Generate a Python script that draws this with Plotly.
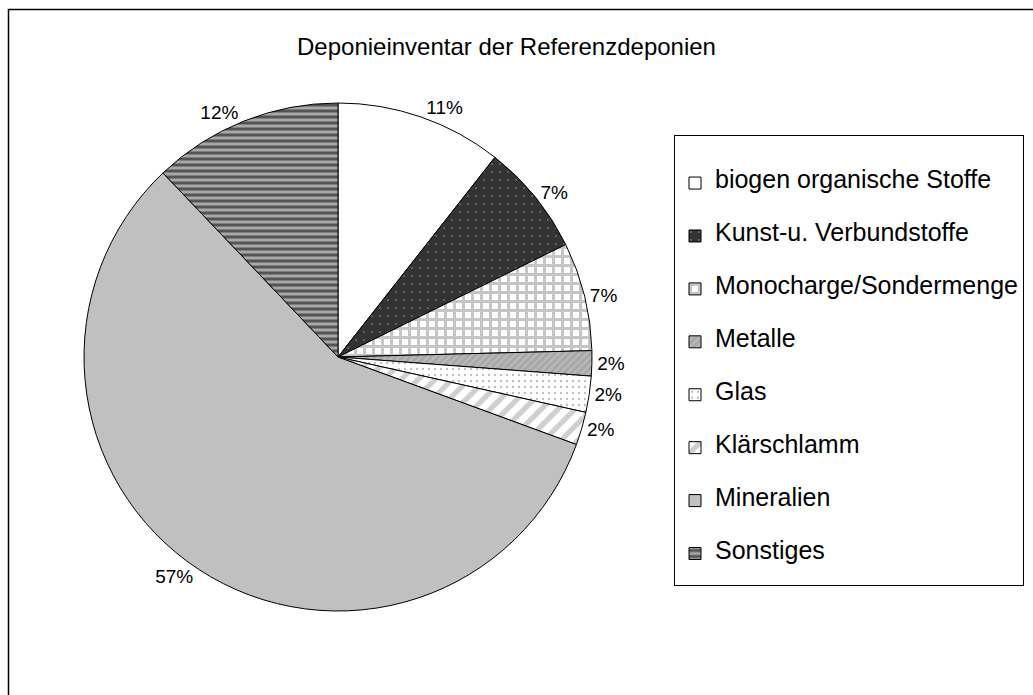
import plotly.graph_objects as go

categories = ["biogen organische Stoffe", "Kunst-u. Verbundstoffe", "Monocharge/Sondermenge",
              "Metalle", "Glas", "Klärschlamm", "Mineralien", "Sonstiges"]
values = [10.6, 7.1, 6.9, 1.6, 2.3, 2.1, 57.3, 12.1]

bg_colors = ["#ffffff", "#333333", "#ffffff", "#a8a8a8", "#ffffff", "#ffffff", "#c0c0c0", "#a8a8a8"]
fg_colors = ["#ffffff", "#a0a0a0", "#8c8c8c", "#d0d0d0", "#808080", "#a0a0a0", "#c0c0c0", "#000000"]
shapes = ["", ".", "+", "/", ".", "/", "", "-"]
sizes = [8, 8, 9, 5, 6, 12, 8, 6]
solid = [0.3, 0.06, 0.55, 0.35, 0.12, 0.45, 0.3, 0.5]

NB = "\u00a0"
legend_labels = [f"{NB}<br><span style='font-size:25px'>{c}</span><br>{NB}" for c in categories]

fig = go.Figure(go.Pie(
    labels=legend_labels,
    values=values,
    sort=False,
    direction="clockwise",
    rotation=0,
    texttemplate="%{percent:.0%}",
    textposition="outside",
    textfont=dict(family="Liberation Sans, Arial", size=19, color="#000000"),
    hoverinfo="none",
    marker=dict(
        colors=bg_colors,
        line=dict(color="#000000", width=1),
        pattern=dict(shape=shapes, fgcolor=fg_colors, bgcolor=bg_colors,
                     size=sizes, solidity=solid, fillmode="overlay"),
    ),
    domain=dict(x=[(338 - 254) / 1033, (338 + 254) / 1033],
                y=[(338 - 254) / 695, (338 + 254) / 695]),
))

fig.update_layout(
    width=1033, height=695,
    margin=dict(l=0, r=0, t=0, b=0),
    paper_bgcolor="#ffffff",
    plot_bgcolor="#ffffff",
    font=dict(family="Liberation Sans, Arial", color="#000000"),
    title=dict(text="Deponieinventar der Referenzdeponien", x=297 / 1033, xanchor="left",
               y=1 - 47 / 695, yanchor="middle",
               font=dict(size=24, family="Liberation Sans, Arial", color="#000000")),
    showlegend=True,
    legend=dict(
        x=674 / 1033, xanchor="left",
        y=1 - 135 / 695, yanchor="top",
        bordercolor="#000000", borderwidth=1,
        bgcolor="#ffffff",
        font=dict(size=12.8, family="Liberation Sans, Arial", color="#000000"),
        title=dict(text=NB, font=dict(size=12)),
        itemclick=False, itemdoubleclick=False,
        traceorder="normal",
    ),
    shapes=[dict(type="rect", xref="paper", yref="paper",
                 x0=8.5 / 1033, x1=1.05, y0=-0.05, y1=1 - 9.5 / 695,
                 line=dict(color="#000000", width=1.5), fillcolor="rgba(0,0,0,0)", layer="below")],
)

fig.write_html("out.html", config={"displayModeBar": False},
               post_script="document.body.style.margin='0';")
